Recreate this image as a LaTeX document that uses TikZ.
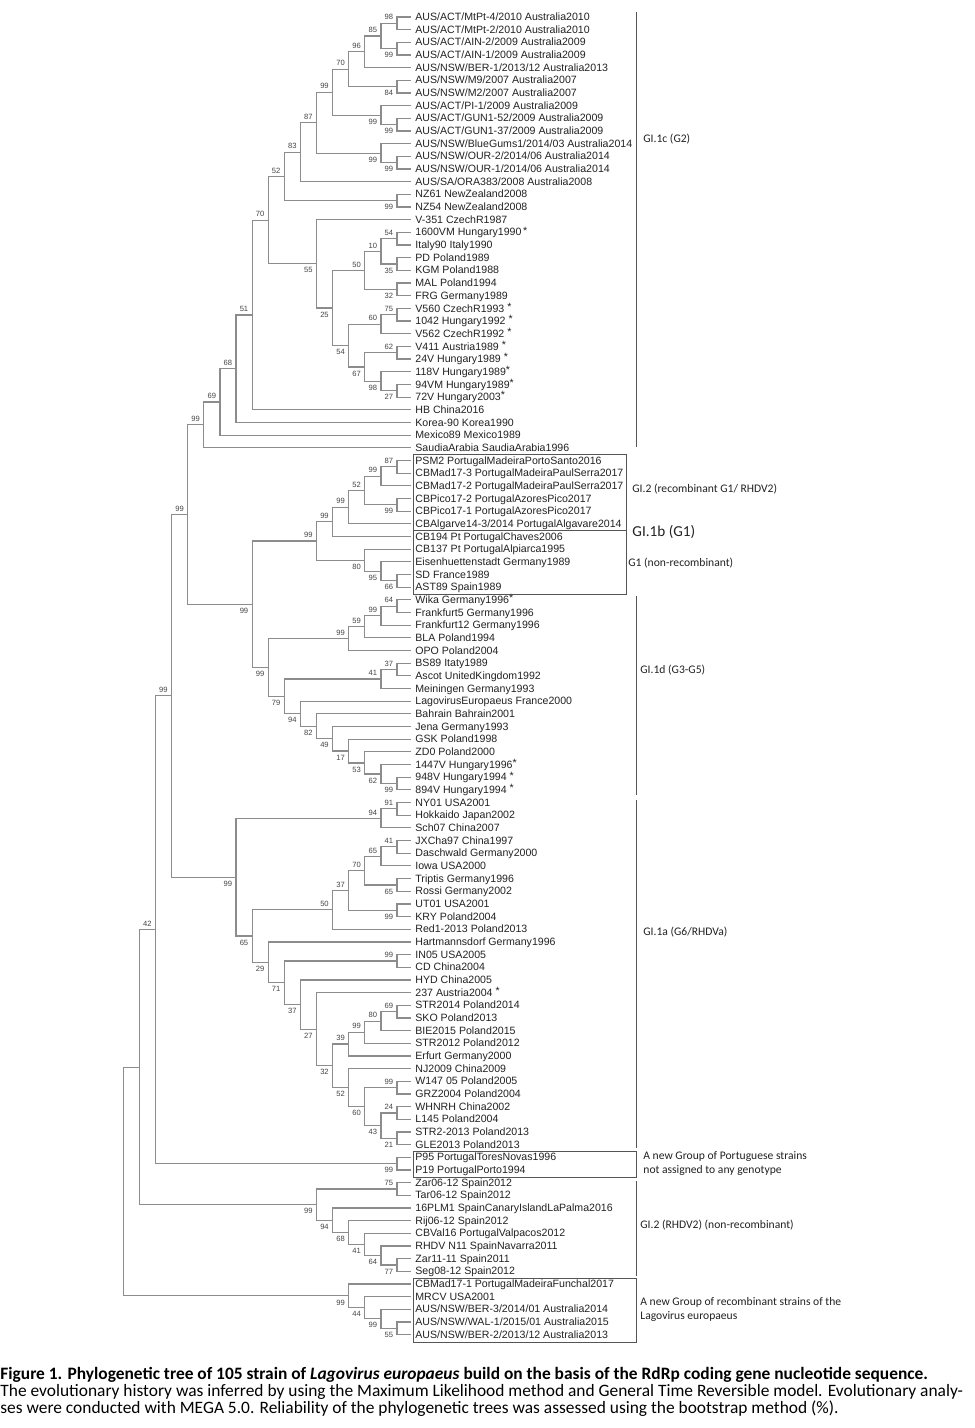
\documentclass[tikz,border=0pt]{standalone}
\usepackage{fontspec}
\setmainfont{Liberation Sans}
\newfontfamily\capfont{Carlito}
\definecolor{treegray}{HTML}{8C8C8C}
\definecolor{txtc}{HTML}{222222}
\definecolor{bsc}{HTML}{444444}
\definecolor{boxc}{HTML}{555555}
\newcommand\setY[2]{\expandafter\xdef\csname tY-#1\endcsname{#2}}
\newcommand\getY[1]{\csname tY-#1\endcsname}
\newcommand\setH[2]{\expandafter\xdef\csname tH-#1\endcsname{#2}}
\newcommand\getH[1]{\csname tH-#1\endcsname}
\newcommand\leaffont{\fontsize{5.3}{6}\selectfont}
\newcommand\bsfont{\fontsize{3.8}{4}\selectfont}
\newcommand\grpfont{\capfont\fontsize{5.8}{7}\selectfont}
\newcommand\tstar{\raisebox{0.9pt}{*}}
\newcommand\lf[2]{%
 \pgfmathsetmacro\tnY{17+(#1-1)*12.67}%
 \setY{L#1}{\tnY}\setH{L#1}{0}%
 \coordinate (L#1) at (411,\tnY);%
 \node[leaf] (T#1) at (415,{\tnY+3.6}) {#2};%
}
\newcommand\tn[5]{%
 \pgfmathsetmacro\tnY{(\getY{#2}+\getY{#3})/2}%
 \pgfmathsetmacro\tnH{max(\getH{#2},\getH{#3})+1}%
 \pgfmathsetmacro\tnX{397-16.1*(\tnH-1)}%
 \setY{#1}{\tnY}\setH{#1}{\tnH}%
 \coordinate (#1) at (\tnX,\tnY);%
 \draw[br] (#2) -| (#1) |- (#3);%
 \if#5a\node[bs] (lb#1) at ({\tnX-3.5},{\tnY-6}) {#4};\fi
 \if#5b\node[bs] (lb#1) at ({\tnX-3.5},{\tnY+6.5}) {#4};\fi
}
\begin{document}
\begin{tikzpicture}[x=0.5pt,y=-0.5pt,
 br/.style={draw=treegray,line width=0.6pt},
 leaf/.style={anchor=base west,inner sep=0pt,font=\leaffont,text=txtc},
 bs/.style={anchor=east,inner sep=0pt,font=\bsfont,text=bsc},
 boxl/.style={draw=boxc,line width=0.5pt},
 grp/.style={anchor=west,inner sep=0pt,font=\grpfont,text=txtc},
 captxt/.style={anchor=base west,inner sep=0pt,text=black}]
\useasboundingbox (0,0) rectangle (974,1428);
\fill[white] (0,0) rectangle (974,1428);
% leaves
\lf{1}{AUS/ACT/MtPt-4/2010 Australia2010}
\lf{2}{AUS/ACT/MtPt-2/2010 Australia2010}
\lf{3}{AUS/ACT/AIN-2/2009 Australia2009}
\lf{4}{AUS/ACT/AIN-1/2009 Australia2009}
\lf{5}{AUS/NSW/BER-1/2013/12 Australia2013}
\lf{6}{AUS/NSW/M9/2007 Australia2007}
\lf{7}{AUS/NSW/M2/2007 Australia2007}
\lf{8}{AUS/ACT/PI-1/2009 Australia2009}
\lf{9}{AUS/ACT/GUN1-52/2009 Australia2009}
\lf{10}{AUS/ACT/GUN1-37/2009 Australia2009}
\lf{11}{AUS/NSW/BlueGums1/2014/03 Australia2014}
\lf{12}{AUS/NSW/OUR-2/2014/06 Australia2014}
\lf{13}{AUS/NSW/OUR-1/2014/06 Australia2014}
\lf{14}{AUS/SA/ORA383/2008 Australia2008}
\lf{15}{NZ61 NewZealand2008}
\lf{16}{NZ54 NewZealand2008}
\lf{17}{V-351 CzechR1987}
\lf{18}{1600VM Hungary1990\,\tstar}
\lf{19}{Italy90 Italy1990}
\lf{20}{PD Poland1989}
\lf{21}{KGM Poland1988}
\lf{22}{MAL Poland1994}
\lf{23}{FRG Germany1989}
\lf{24}{V560 CzechR1993 \tstar}
\lf{25}{1042 Hungary1992 \tstar}
\lf{26}{V562 CzechR1992 \tstar}
\lf{27}{V411 Austria1989 \tstar}
\lf{28}{24V Hungary1989 \tstar}
\lf{29}{118V Hungary1989\tstar}
\lf{30}{94VM Hungary1989\tstar}
\lf{31}{72V Hungary2003\tstar}
\lf{32}{HB China2016}
\lf{33}{Korea-90 Korea1990}
\lf{34}{Mexico89 Mexico1989}
\lf{35}{SaudiaArabia SaudiaArabia1996}
\lf{36}{PSM2 PortugalMadeiraPortoSanto2016}
\lf{37}{CBMad17-3 PortugalMadeiraPaulSerra2017}
\lf{38}{CBMad17-2 PortugalMadeiraPaulSerra2017}
\lf{39}{CBPico17-2 PortugalAzoresPico2017}
\lf{40}{CBPico17-1 PortugalAzoresPico2017}
\lf{41}{CBAlgarve14-3/2014 PortugalAlgavare2014}
\lf{42}{CB194 Pt PortugalChaves2006}
\lf{43}{CB137 Pt PortugalAlpiarca1995}
\lf{44}{Eisenhuettenstadt Germany1989}
\lf{45}{SD France1989}
\lf{46}{AST89 Spain1989}
\lf{47}{Wika Germany1996\tstar}
\lf{48}{Frankfurt5 Germany1996}
\lf{49}{Frankfurt12 Germany1996}
\lf{50}{BLA Poland1994}
\lf{51}{OPO Poland2004}
\lf{52}{BS89 Itaty1989}
\lf{53}{Ascot UnitedKingdom1992}
\lf{54}{Meiningen Germany1993}
\lf{55}{LagovirusEuropaeus France2000}
\lf{56}{Bahrain Bahrain2001}
\lf{57}{Jena Germany1993}
\lf{58}{GSK Poland1998}
\lf{59}{ZD0 Poland2000}
\lf{60}{1447V Hungary1996\tstar}
\lf{61}{948V Hungary1994 \tstar}
\lf{62}{894V Hungary1994 \tstar}
\lf{63}{NY01 USA2001}
\lf{64}{Hokkaido Japan2002}
\lf{65}{Sch07 China2007}
\lf{66}{JXCha97 China1997}
\lf{67}{Daschwald Germany2000}
\lf{68}{Iowa USA2000}
\lf{69}{Triptis Germany1996}
\lf{70}{Rossi Germany2002}
\lf{71}{UT01 USA2001}
\lf{72}{KRY Poland2004}
\lf{73}{Red1-2013 Poland2013}
\lf{74}{Hartmannsdorf Germany1996}
\lf{75}{IN05 USA2005}
\lf{76}{CD China2004}
\lf{77}{HYD China2005}
\lf{78}{237 Austria2004 \tstar}
\lf{79}{STR2014 Poland2014}
\lf{80}{SKO Poland2013}
\lf{81}{BIE2015 Poland2015}
\lf{82}{STR2012 Poland2012}
\lf{83}{Erfurt Germany2000}
\lf{84}{NJ2009 China2009}
\lf{85}{W147 05 Poland2005}
\lf{86}{GRZ2004 Poland2004}
\lf{87}{WHNRH China2002}
\lf{88}{L145 Poland2004}
\lf{89}{STR2-2013 Poland2013}
\lf{90}{GLE2013 Poland2013}
\lf{91}{P95 PortugalToresNovas1996}
\lf{92}{P19 PortugalPorto1994}
\lf{93}{Zar06-12 Spain2012}
\lf{94}{Tar06-12 Spain2012}
\lf{95}{16PLM1 SpainCanaryIslandLaPalma2016}
\lf{96}{Rij06-12 Spain2012}
\lf{97}{CBVal16 PortugalValpacos2012}
\lf{98}{RHDV N11 SpainNavarra2011}
\lf{99}{Zar11-11 Spain2011}
\lf{100}{Seg08-12 Spain2012}
\lf{101}{CBMad17-1 PortugalMadeiraFunchal2017}
\lf{102}{MRCV USA2001}
\lf{103}{AUS/NSW/BER-3/2014/01 Australia2014}
\lf{104}{AUS/NSW/WAL-1/2015/01 Australia2015}
\lf{105}{AUS/NSW/BER-2/2013/12 Australia2013}
% GI.1c (G2)
\tn{a1}{L1}{L2}{98}{a}
\tn{a2}{L3}{L4}{99}{b}
\tn{a3}{a1}{a2}{85}{a}
\tn{a4}{a3}{L5}{96}{a}
\tn{a5}{L6}{L7}{84}{b}
\tn{a6}{a4}{a5}{70}{a}
\tn{a7}{L9}{L10}{99}{b}
\tn{a8}{L8}{a7}{99}{b}
\tn{a9}{a6}{a8}{99}{a}
\tn{a10}{L12}{L13}{99}{b}
\tn{a11}{L11}{a10}{99}{b}
\tn{a12}{a9}{a11}{87}{a}
\tn{a13}{a12}{L14}{83}{a}
\tn{a14}{L15}{L16}{99}{b}
\tn{a15}{a13}{a14}{52}{a}
\tn{b1}{L18}{L19}{54}{a}
\tn{b2}{L20}{L21}{35}{b}
\tn{b3}{b1}{b2}{10}{a}
\tn{b4}{L22}{L23}{32}{b}
\tn{b5}{b3}{b4}{50}{a}
\tn{b6}{L24}{L25}{75}{a}
\tn{b7}{b6}{L26}{60}{a}
\tn{b8}{L27}{L28}{62}{a}
\tn{b9}{L30}{L31}{27}{b}
\tn{b10}{L29}{b9}{98}{b}
\tn{b11}{b8}{b10}{67}{b}
\tn{b12}{b7}{b11}{54}{b}
\tn{b13}{b5}{b12}{25}{b}
\tn{b14}{L17}{b13}{55}{b}
\tn{c1}{a15}{b14}{70}{a}
\tn{c2}{c1}{L32}{51}{a}
\tn{c3}{c2}{L33}{68}{a}
\tn{c4}{c3}{L34}{69}{a}
\tn{c5}{c4}{L35}{99}{a}
% G1
\tn{d1}{L36}{L37}{87}{a}
\tn{d2}{d1}{L38}{99}{a}
\tn{d3}{L39}{L40}{99}{b}
\tn{d4}{d2}{d3}{52}{a}
\tn{d5}{d4}{L41}{99}{a}
\tn{d6}{d5}{L42}{99}{a}
\tn{d7}{L45}{L46}{66}{b}
\tn{d8}{L44}{d7}{95}{b}
\tn{d9}{L43}{d8}{80}{b}
\tn{d10}{d6}{d9}{99}{a}
% G3-G5
\tn{e1}{L47}{L48}{64}{a}
\tn{e2}{e1}{L49}{99}{a}
\tn{e3}{e2}{L50}{59}{a}
\tn{e4}{e3}{L51}{99}{a}
\tn{e5}{L52}{L53}{37}{a}
\tn{e6}{e5}{L54}{41}{a}
\tn{e7}{L61}{L62}{99}{b}
\tn{e8}{L60}{e7}{62}{b}
\tn{e9}{L59}{e8}{53}{b}
\tn{e10}{L58}{e9}{17}{b}
\tn{e11}{L57}{e10}{49}{b}
\tn{e12}{L56}{e11}{82}{b}
\tn{e13}{L55}{e12}{94}{b}
\tn{e14}{e6}{e13}{79}{b}
\tn{e15}{e4}{e14}{99}{b}
\tn{f1}{d10}{e15}{99}{b}
\tn{f2}{c5}{f1}{99}{a}
% G6
\tn{g1}{L63}{L64}{91}{a}
\tn{g2}{g1}{L65}{94}{a}
\tn{g3}{L66}{L67}{41}{a}
\tn{g4}{g3}{L68}{65}{a}
\tn{g5}{L69}{L70}{65}{b}
\tn{g6}{g4}{g5}{70}{a}
\tn{g7}{L71}{L72}{99}{b}
\tn{g8}{g6}{g7}{37}{a}
\tn{g9}{g8}{L73}{50}{a}
\tn{g10}{L75}{L76}{99}{a}
\tn{g11}{L79}{L80}{69}{a}
\tn{g12}{g11}{L81}{80}{a}
\tn{g13}{g12}{L82}{99}{a}
\tn{g14}{g13}{L83}{39}{a}
\tn{g15}{L85}{L86}{99}{a}
\tn{g16}{L87}{L88}{24}{a}
\tn{g17}{L89}{L90}{21}{b}
\tn{g18}{g16}{g17}{43}{b}
\tn{g19}{g15}{g18}{60}{b}
\tn{g20}{L84}{g19}{52}{b}
\tn{g21}{g14}{g20}{32}{b}
\tn{g22}{L78}{g21}{27}{b}
\tn{g23}{L77}{g22}{37}{b}
\tn{g24}{g10}{g23}{71}{b}
\tn{g25}{L74}{g24}{29}{b}
\tn{g26}{g9}{g25}{65}{b}
\tn{g27}{g2}{g26}{99}{b}
\tn{h1}{f2}{g27}{99}{a}
\tn{h2}{L91}{L92}{99}{b}
\tn{h3}{h1}{h2}{42}{a}
% GI.2
\tn{k1}{L93}{L94}{75}{a}
\tn{k2}{L99}{L100}{77}{b}
\tn{k3}{L98}{k2}{64}{b}
\tn{k4}{L97}{k3}{41}{b}
\tn{k5}{L96}{k4}{68}{b}
\tn{k6}{L95}{k5}{94}{b}
\tn{k7}{k1}{k6}{99}{b}
\tn{k8}{h3}{k7}{}{n}
% recombinant group
\tn{m1}{L104}{L105}{55}{b}
\tn{m2}{L103}{m1}{99}{b}
\tn{m3}{L102}{m2}{44}{b}
\tn{m4}{L101}{m3}{99}{b}
\tn{root}{k8}{m4}{}{n}
% boxes and brackets
\draw[boxl] (413,454) rectangle (626,594);
\draw[boxl] (413,530.5) -- (626,530.5);
\draw[boxl] (413,1151) rectangle (636,1177);
\draw[boxl] (413,1278) rectangle (636,1342);
\draw[boxl] (636,12) -- (636,447);
\draw[boxl] (636,596) -- (636,795);
\draw[boxl] (636,800) -- (636,1148);
\draw[boxl] (636,1181) -- (636,1276);
% group labels
\node[grp] (g1c) at (643,139) {GI.1c (G2)};
\node[grp] (g2r) at (632,489) {GI.2 (recombinant G1/ RHDV2)};
\node[grp,font=\capfont\fontsize{7.6}{9}\selectfont] (g1b) at (632,532) {GI.1b (G1)};
\node[grp] (g1n) at (628,563) {G1 (non-recombinant)};
\node[grp] (g1d) at (640,670) {GI.1d (G3-G5)};
\node[grp] (g1a) at (643,932) {GI.1a (G6/RHDVa)};
\node[grp] (gpa) at (643,1156) {A new Group of Portuguese strains};
\node[grp] (gpb) at (643,1170) {not assigned to any genotype};
\node[grp] (g2n) at (640,1225) {GI.2 (RHDV2) (non-recombinant)};
\node[grp] (gra) at (640,1302) {A new Group of recombinant strains of the};
\node[grp] (grb) at (640,1316) {Lagovirus europaeus};
% caption
\node[captxt,font=\capfont\bfseries\fontsize{8.7}{9}\selectfont] (cap1) at (0,1379.5) {Figure 1. Phylogenetic tree of 105 strain of \textit{Lagovirus europaeus} build on the basis of the RdRp coding gene nucleotide sequence.};
\node[captxt,font=\capfont\fontsize{8.7}{9}\selectfont] (cap2) at (0,1396.5) {The evolutionary history was inferred by using the Maximum Likelihood method and General Time Reversible model. Evolutionary analy-};
\node[captxt,font=\capfont\fontsize{8.7}{9}\selectfont] (cap3) at (0,1413) {ses were conducted with MEGA 5.0. Reliability of the phylogenetic trees was assessed using the bootstrap method (\%).};
\end{tikzpicture}
\end{document}
